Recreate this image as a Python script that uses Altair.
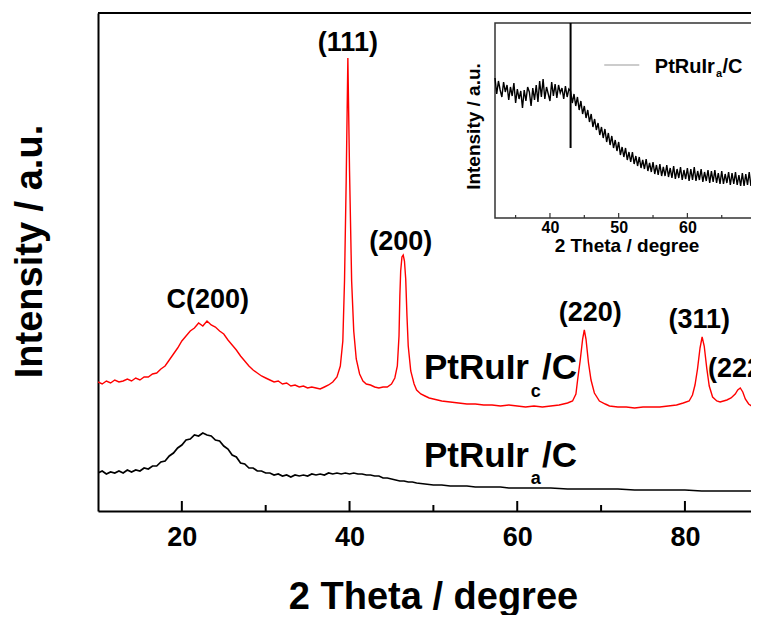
import altair as alt
import pandas as pd

FONT = "Liberation Sans"

# ---------------- data ----------------
# main pattern: (2 theta / degree, intensity in arbitrary units)
RED = [(10.0,129),(10.5,127),(11.0,130),(11.5,128),(12.0,131),(12.5,129),(13.0,130),(13.5,132),(14.0,130),(14.5,133),
       (15.0,131),(15.5,134),(16.0,134),(16.5,137),(17.0,138),(17.5,142),(18.0,145),(18.5,151),(19.0,157),(19.5,163),
       (20.0,170),(20.5,175),(21.0,180),(21.5,183),(22.0,188),(22.5,185),(23.0,190),(23.5,186),(24.0,184),(24.5,180),
       (25.0,177),(25.5,171),(26.0,166),(26.5,161),(27.0,155),(27.5,150),(28.0,145),(28.5,141),(29.0,138),(29.5,135),
       (30.0,133),(30.5,131),(31.0,129),(31.5,130),(32.0,127),(32.5,128),(33.0,125),(33.5,126),(34.0,124),(34.5,125),
       (35.0,123),(35.5,124),(36.0,123),(36.5,122),(37.0,124),(37.5,126),(38.0,129),(38.5,134),(38.9,145),(39.2,170),
       (39.4,230),(39.6,330),(39.8,453),(40.0,340),(40.25,230),(40.5,180),(40.8,152),(41.2,137),(41.6,130),(42.0,127),
       (42.5,126),(43.0,124),(43.5,123),(44.0,124),(44.5,124),(45.0,127),(45.4,133),(45.7,145),(45.9,175),(46.0,215),
       (46.1,240),(46.25,254),(46.4,256),(46.55,250),(46.7,232),(46.85,195),(47.0,165),(47.3,140),(47.7,127),(48.0,121),
       (48.5,117),(49.0,115),(49.5,113),(50.0,112),(51.0,110),(52.0,109),(53.0,108),(54.0,107),(55.0,107),(56.0,106),
       (57.0,106),(58.0,105),(59.0,106),(60.0,105),(61.0,104),(62.0,105),(63.0,104),(64.0,105),(65.0,106),(66.0,108),
       (66.6,110),(67.0,117),(67.2,131),(67.5,150),(67.8,172),(68.0,181),(68.2,172),(68.5,148),(68.8,131),(69.2,118),
       (69.8,110),(70.5,107),(71.0,105),(72.0,104),(73.0,104),(74.0,103),(75.0,104),(76.0,104),(77.0,104),(78.0,105),
       (79.0,106),(79.8,108),(80.5,110),(80.9,116),(81.2,126),(81.5,142),(81.8,163),(82.05,174),(82.3,165),(82.6,143),
       (82.9,125),(83.3,114),(83.8,110),(84.2,109),(84.6,110),(85.0,111),(85.5,113),(86.0,117),(86.3,121),(86.6,123),
       (86.9,119),(87.2,112),(87.6,107),(88.1,104),(88.8,103)]

BLACK = [(10.0,38),(10.5,40),(11.0,37),(11.5,39),(12.0,38),(12.5,40),(13.0,38),(13.5,41),(14.0,39),(14.5,41),
         (15.0,40),(15.5,43),(16.0,42),(16.5,45),(17.0,45),(17.5,49),(18.0,50),(18.5,55),(19.0,58),(19.5,63),
         (20.0,66),(20.5,71),(21.0,72),(21.5,76),(22.0,75),(22.5,78),(23.0,76),(23.5,75),(24.0,71),(24.5,70),
         (25.0,65),(25.5,62),(26.0,56),(26.5,54),(27.0,48),(27.5,47),(28.0,43),(28.5,43),(29.0,40),(29.5,40),
         (30.0,38),(30.5,38),(31.0,36),(31.5,37),(32.0,35),(32.5,36),(33.0,34),(33.5,36),(34.0,35),(34.5,36),
         (35.0,35),(35.5,37),(36.0,36),(36.5,37),(37.0,36),(37.5,38),(38.0,37),(38.5,38),(39.0,37),(39.5,38),
         (40.0,37),(40.5,38),(41.0,37),(41.5,37),(42.0,36),(42.5,36),(43.0,35),(43.5,35),(44.0,33),(44.5,33),
         (45.0,32),(45.5,31),(46.0,30),(46.5,30),(47.0,29),(47.5,29),(48.0,28),(49.0,27),(50.0,26),(51.0,26),
         (52.0,25),(53.0,25),(54.0,25),(55.0,24),(56.0,24),(57.0,24),(58.0,24),(59.0,23),(60.0,23),(62.0,23),
         (64.0,23),(66.0,22),(68.0,22),(70.0,22),(72.0,22),(74.0,21),(76.0,21),(78.0,21),(80.0,21),(82.0,20),
         (84.0,20),(86.0,20),(88.0,20),(88.8,19)]

# inset pattern (PtRuIr_a/C, 32-70 degree), one value every 0.25 degree
INSET_START = 32.0
INSET_STEP = 0.25
INSET = [140,124,137,128, 121,136,126,133, 118,131,122,135, 115,129,119,127, 110,128,117,131,
         126,112,130,118, 133,116,137,121, 139,119,131,124, 117,136,122,134, 120,133,125,130,
         119,132,121,129, 127,115,124,112, 121,108,117,104, 112,100,108,96, 104,91,99,88,
         95,83,91,80, 89,76,85,73, 82,70,78,67, 76,63,71,61, 70,58,66,56,
         66,54,62,52, 61,50,58,49, 59,47,55,46, 56,44,53,43, 54,42,51,42,
         53,41,50,40, 52,39,49,40, 51,38,48,39, 50,37,49,38, 51,37,47,38,
         49,36,46,37, 48,35,47,36, 48,35,45,34, 47,34,44,35, 46,33,45,34,
         46,33,43,32, 45,32,44,33, 46,32,43,33, 45,31,42]

MAIN_X_DOMAIN = [10, 87.88]
MAIN_Y_DOMAIN = [0, 498]
MAJOR_TICKS = [20, 40, 60, 80]
MINOR_TICKS = [30, 50, 70]

PEAK_LABELS = ["C(200)", "(111)", "(200)", "(220)", "(311)", "(222)"]
PEAK_T = [23.1, 39.8, 46.1, 68.7, 81.7, 86.5]
PEAK_I = [211, 468, 269, 198, 191, 142]

SAMPLE_NAMES = ["PtRuIr", "PtRuIr"]
SAMPLE_SUBS = ["c", "a"]
SAMPLE_SUFFIX = ["/C", "/C"]
SAMPLE_I = [132, 44]
SAMPLE_SUB_I = [114, 27]
NAME_END_T = 61.4
SUB_T = 62.2
SUFFIX_T = 62.95

INSET_X_DOMAIN = [32, 69.26]
INSET_Y_DOMAIN = [0, 195]
INSET_MAJOR = [40, 50, 60, 70]
INSET_MINOR = [35, 45, 55, 65]
INSET_MARKER_T = 43.0
INSET_MARKER_I = [195, 70]
LEGEND_LINE_T = [47.9, 53.0]
LEGEND_I = 153
LEGEND_TEXT_I = 145
LEGEND_SUB_I = 141
LEGEND_NAME_END_T = 64.0
LEGEND_SUB_T = 64.6
LEGEND_SUFFIX_T = 65.1

# ---------------- geometry ----------------
W, H = 653, 498
IN_LEFT, IN_RIGHT, IN_TOP, IN_BOTTOM = 397, 653, 10, 205

red_df = pd.DataFrame(RED, columns=["t", "v"])
black_df = pd.DataFrame(BLACK, columns=["t", "v"])
inset_df = pd.DataFrame({"t": [INSET_START + i * INSET_STEP for i in range(len(INSET))], "v": INSET})


def mx(axis=None):
    return alt.X("t:Q", scale=alt.Scale(domain=MAIN_X_DOMAIN, nice=False, zero=False), axis=axis)


def my(axis=None, field="v:Q"):
    return alt.Y(field, scale=alt.Scale(domain=MAIN_Y_DOMAIN, nice=False, zero=False), axis=axis)


def ix(axis=None, field="t:Q"):
    return alt.X(field, scale=alt.Scale(domain=INSET_X_DOMAIN, range=[IN_LEFT, IN_RIGHT], nice=False, zero=False), axis=axis)


def iy(axis=None, field="v:Q"):
    return alt.Y(field, scale=alt.Scale(domain=INSET_Y_DOMAIN, range=[IN_BOTTOM, IN_TOP], nice=False, zero=False), axis=axis)


x_axis = alt.Axis(orient="bottom", values=MAJOR_TICKS, format="d", title="2 Theta / degree", grid=False,
                  ticks=False, tickSize=0,
                  domainColor="black", domainWidth=2, labelFont=FONT, labelFontSize=27, labelFontWeight="bold",
                  labelColor="black", labelPadding=13, labelFlush=False, titleFont=FONT, titleFontSize=38,
                  titleFontWeight="bold", titleColor="black", titlePadding=28, titleX=335)
y_axis = alt.Axis(orient="left", title="Intensity / a.u.", labels=False, ticks=False, tickSize=0, grid=False,
                  domainColor="black", domainWidth=2, titleFont=FONT, titleFontSize=38, titleFontWeight="bold",
                  titleColor="black", titlePadding=49, titleY=238)

red_line = alt.Chart(red_df).mark_line(color="#ff0000", strokeWidth=1.4, clip=True).encode(x=mx(x_axis), y=my(y_axis))
black_line = alt.Chart(black_df).mark_line(color="black", strokeWidth=1.7, clip=True).encode(x=mx(), y=my())

major = alt.Chart(pd.DataFrame({"t": MAJOR_TICKS})).mark_rule(color="black", strokeWidth=2).encode(
    x=mx(), y=alt.value(H), y2=alt.value(H - 10))
minor = alt.Chart(pd.DataFrame({"t": MINOR_TICKS})).mark_rule(color="black", strokeWidth=2).encode(
    x=mx(), y=alt.value(H), y2=alt.value(H - 6))
top_rule = alt.Chart(pd.DataFrame({"t": [MAIN_X_DOMAIN[0]]})).mark_rule(color="black", strokeWidth=2).encode(
    x=alt.value(0), x2=alt.value(W), y=alt.value(0))

peaks = alt.Chart(pd.DataFrame({"t": PEAK_T, "v": PEAK_I, "s": PEAK_LABELS})).mark_text(
    font=FONT, fontSize=27, fontWeight="bold", color="black", align="center", baseline="middle").encode(
    x=mx(), y=my(), text="s:N")

name_df = pd.DataFrame({"t": [NAME_END_T] * 2, "v": SAMPLE_I, "s": SAMPLE_NAMES})
sub_df = pd.DataFrame({"t": [SUB_T] * 2, "v": SAMPLE_SUB_I, "s": SAMPLE_SUBS})
suf_df = pd.DataFrame({"t": [SUFFIX_T] * 2, "v": SAMPLE_I, "s": SAMPLE_SUFFIX})
names = alt.Chart(name_df).mark_text(font=FONT, fontSize=35, fontWeight="bold", color="black", align="right",
                                     baseline="alphabetic").encode(x=mx(), y=my(), text="s:N")
subs = alt.Chart(sub_df).mark_text(font=FONT, fontSize=18, fontWeight="bold", color="black", align="center",
                                   baseline="alphabetic").encode(x=mx(), y=my(), text="s:N")
sufs = alt.Chart(suf_df).mark_text(font=FONT, fontSize=35, fontWeight="bold", color="black", align="left",
                                   baseline="alphabetic").encode(x=mx(), y=my(), text="s:N")

# ---------------- inset ----------------
ix_axis = alt.Axis(orient="bottom", offset=-(H - IN_BOTTOM), values=INSET_MAJOR, format="d", grid=False,
                   domain=False, ticks=False, tickSize=0, labelFont=FONT, labelFontSize=16, labelFontWeight="bold",
                   labelColor="black", labelPadding=1, labelFlush=False, title="2 Theta / degree", titleFont=FONT,
                   titleFontSize=19, titleFontWeight="bold", titleColor="black", titlePadding=1,
                   titleX=(IN_LEFT + 660) / 2)
iy_axis = alt.Axis(orient="left", offset=-IN_LEFT, labels=False, ticks=False, tickSize=0, grid=False, domain=False,
                   title="Intensity / a.u.", titleFont=FONT, titleFontSize=19, titleFontWeight="bold",
                   titleColor="black", titlePadding=12, titleY=113)

frame = alt.Chart(pd.DataFrame({"t": [INSET_X_DOMAIN[0]]})).mark_rect(
    fill="white", stroke="#333333", strokeWidth=1.5).encode(
    x=alt.value(IN_LEFT), x2=alt.value(W + 20), y=alt.value(IN_TOP), y2=alt.value(IN_BOTTOM))
inset_line = alt.Chart(inset_df).mark_line(color="black", strokeWidth=1.4, clip=True).encode(
    x=ix(ix_axis), y=iy(iy_axis))
marker = alt.Chart(pd.DataFrame({"t": [INSET_MARKER_T], "v": [INSET_MARKER_I[0]], "v2": [INSET_MARKER_I[1]]})).mark_rule(
    color="black", strokeWidth=2).encode(x=ix(), y=iy(), y2="v2:Q")
in_major = alt.Chart(pd.DataFrame({"t": INSET_MAJOR})).mark_rule(color="#333333", strokeWidth=1.2, clip=True).encode(
    x=ix(), y=alt.value(IN_BOTTOM), y2=alt.value(IN_BOTTOM - 5))
in_minor = alt.Chart(pd.DataFrame({"t": INSET_MINOR})).mark_rule(color="#333333", strokeWidth=1.2).encode(
    x=ix(), y=alt.value(IN_BOTTOM), y2=alt.value(IN_BOTTOM - 3))
leg_line = alt.Chart(pd.DataFrame({"t": [LEGEND_LINE_T[0]], "t2": [LEGEND_LINE_T[1]], "v": [LEGEND_I]})).mark_rule(
    color="#999999", strokeWidth=1.2).encode(x=ix(), x2="t2:Q", y=iy())
leg_name = alt.Chart(pd.DataFrame({"t": [LEGEND_NAME_END_T], "v": [LEGEND_TEXT_I], "s": ["PtRuIr"]})).mark_text(
    font=FONT, fontSize=20, fontWeight="bold", color="black", align="right", baseline="alphabetic").encode(
    x=ix(), y=iy(), text="s:N")
leg_sub = alt.Chart(pd.DataFrame({"t": [LEGEND_SUB_T], "v": [LEGEND_SUB_I], "s": ["a"]})).mark_text(
    font=FONT, fontSize=11, fontWeight="bold", color="black", align="center", baseline="alphabetic").encode(
    x=ix(), y=iy(), text="s:N")
leg_suf = alt.Chart(pd.DataFrame({"t": [LEGEND_SUFFIX_T], "v": [LEGEND_TEXT_I], "s": ["/C"]})).mark_text(
    font=FONT, fontSize=20, fontWeight="bold", color="black", align="left", baseline="alphabetic").encode(
    x=ix(), y=iy(), text="s:N")

layers = [red_line, black_line, major, minor, top_rule, peaks, names, subs, sufs,
          frame, inset_line, marker, in_major, in_minor, leg_line, leg_name, leg_sub, leg_suf]

chart = alt.layer(*layers).resolve_scale(x="independent", y="independent").properties(
    width=W, height=H,
    autosize=alt.AutoSizeParams(type="none"),
    padding={"left": 90, "top": 5, "right": 0, "bottom": 104},
).configure_view(stroke=None)

chart.save("out.html", embed_options={"renderer": "svg", "actions": False})
